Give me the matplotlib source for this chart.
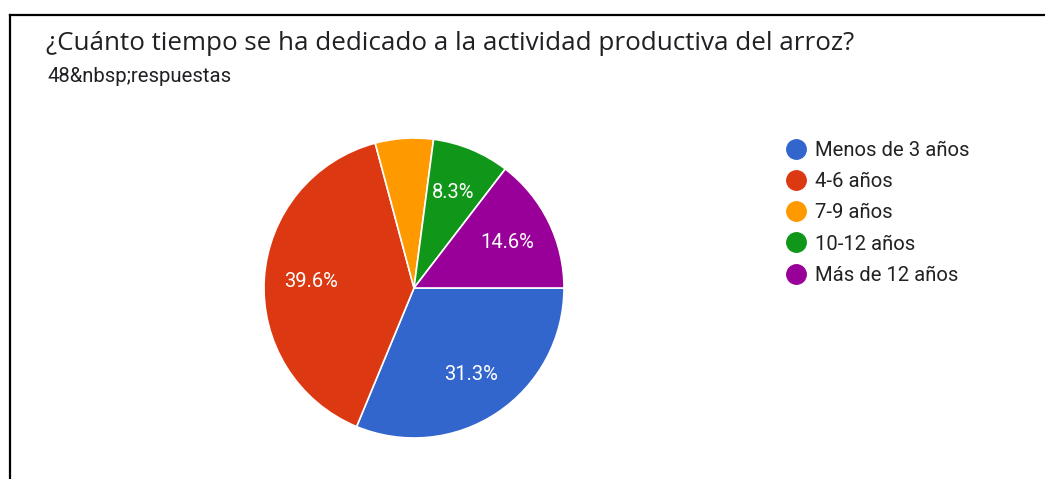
import math
import matplotlib.pyplot as plt
from matplotlib.lines import Line2D

# Survey answers (48 responses)
categories = ['Menos de 3 años', '4-6 años', '7-9 años', '10-12 años', 'Más de 12 años']
counts = [15, 19, 3, 4, 7]
colors = ['#3366cc', '#dc3912', '#ff9900', '#109618', '#990099']
title = '¿Cuánto tiempo se ha dedicado a la actividad productiva del arroz?'
subtitle = '48&nbsp;respuestas'

W, H = 1045, 479
fig = plt.figure(figsize=(W / 100, H / 100), dpi=100)
fig.patch.set_facecolor('white')

# frame lines of the screenshot
fig.add_artist(Line2D([10 / W, 1], [1 - 15 / H, 1 - 15 / H], color='black', lw=1.6))
fig.add_artist(Line2D([10 / W, 10 / W], [0, 1 - 15 / H], color='black', lw=1.6))

fig.text(46 / W, 1 - 43 / H, title, fontsize=18.7, color='#202124',
         family='Open Sans', va='center', ha='left')
fig.text(47 / W, 1 - 76 / H, subtitle, fontsize=14.6, color='#202124',
         family='Roboto', va='center', ha='left')

# pie: center (414, 288), radius 150 px
ax = fig.add_axes([264 / W, 1 - 438 / H, 300 / W, 300 / H])

def fmt(p):
    # round half up like the forms chart does (31.25 -> 31.3)
    v = math.floor(p * 10 + 0.5) / 10
    return f'{v:.1f}%' if p > 7 else ''

wedges, texts, autotexts = ax.pie(
    counts, colors=colors, startangle=0, counterclock=False,
    autopct=fmt, pctdistance=0.69,
    wedgeprops=dict(edgecolor='white', linewidth=1.2),
    textprops=dict(color='white', fontsize=14.5, family='Roboto'))
ax.set_xlim(-1, 1)
ax.set_ylim(-1, 1)
ax.set_aspect('equal')

handles = [Line2D([], [], marker='o', linestyle='', markersize=14,
                  markerfacecolor=c, markeredgecolor=c) for c in colors]
leg = fig.legend(handles, categories, loc='upper left',
                 bbox_to_anchor=(786 / W, 1 - 141 / H), frameon=False,
                 handlelength=1.0, handletextpad=0.45, labelspacing=0.6,
                 prop=dict(family='Roboto', size=14.6), borderaxespad=0,
                 borderpad=0)
for t in leg.get_texts():
    t.set_color('#222222')

fig.savefig('out.png', dpi=100, facecolor='white')
